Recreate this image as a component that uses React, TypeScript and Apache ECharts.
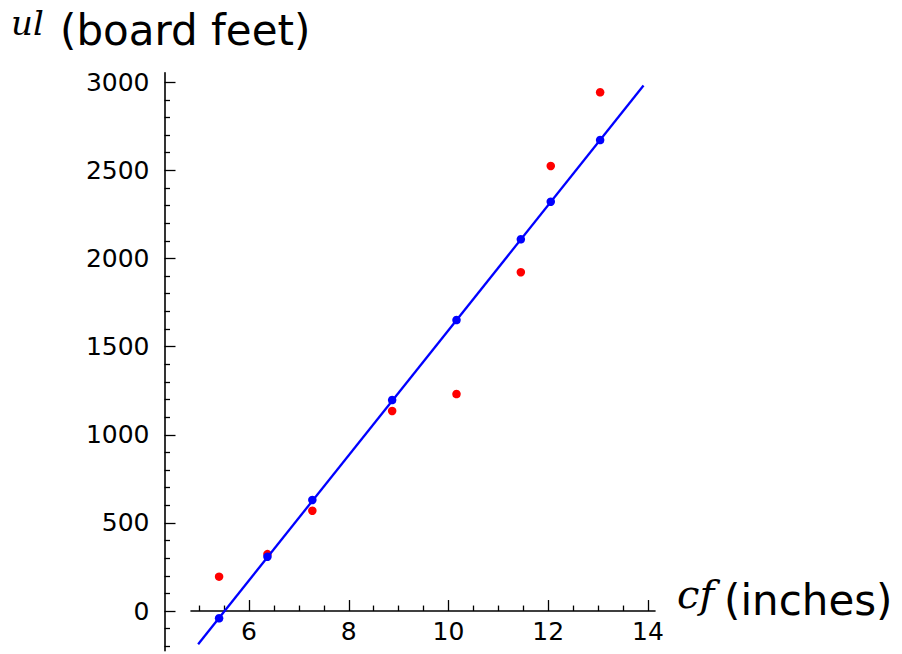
import React, { useEffect, useRef } from "react";
import * as echarts from "echarts";

// Diameter (inches) of each observation
const cfValues = [5.4, 6.37, 7.27, 8.87, 10.16, 11.45, 12.05, 13.04];
// Observed usable lumber (board feet) – red points
const ulObserved = [195, 323, 569, 1135, 1231, 1922, 2525, 2943];
// Fitted values (board feet) – blue points
const ulFitted = [-41, 308, 630, 1197, 1651, 2109, 2322, 2672];
// Fitted regression line end points
const fitLineX = [4.98, 13.91];
const fitLineY = [-188, 2981];

const xMajorTicks = [6, 8, 10, 12, 14];
const xMinorTicks = [5, 5.5, 6.5, 7, 7.5, 8.5, 9, 9.5, 10.5, 11, 11.5, 12.5, 13, 13.5];
const yMajorTicks = [0, 500, 1000, 1500, 2000, 2500, 3000];
const yMinorTicks = [
  -200, -100, 100, 200, 300, 400, 600, 700, 800, 900, 1100, 1200, 1300, 1400, 1600, 1700, 1800,
  1900, 2100, 2200, 2300, 2400, 2600, 2700, 2800, 2900,
];

const X_MIN = 4.837;
const X_MAX = 14.14;
const Y_MIN = -225;
const Y_MAX = 3054;

export default function App() {
  const ref = useRef<HTMLDivElement>(null);
  useEffect(() => {
    if (!ref.current) return;
    const chart = echarts.init(ref.current, undefined, { renderer: "svg" });
    const axisColor = "#000";
    const gridTop = 72.7;
    const gridBottom = 3.3;
    const plotH = 654 - gridTop - gridBottom;
    // shift x axis up from grid bottom to the y = 0 level
    const xOffset = -(plotH * (0 - Y_MIN)) / (Y_MAX - Y_MIN);
    const tickFont = {
      fontSize: 25,
      fontFamily: "DejaVu Sans",
      color: "#000",
      formatter: (v: number) => String(v),
    };
    const yAxisBase = {
      type: "value" as const,
      min: Y_MIN,
      max: Y_MAX,
      position: "left" as const,
      offset: 26.5,
      splitLine: { show: false },
    };
    const xAxisBase = {
      type: "value" as const,
      min: X_MIN,
      max: X_MAX,
      position: "bottom" as const,
      offset: xOffset,
      splitLine: { show: false },
    };
    chart.setOption({
      animation: false,
      backgroundColor: "#fff",
      grid: {
        left: 191,
        right: 247,
        top: gridTop,
        bottom: gridBottom,
        containLabel: false,
        outerBoundsMode: "none",
      },
      xAxis: [
        {
          ...xAxisBase,
          axisLine: { show: true, onZero: false, lineStyle: { color: axisColor, width: 1.6 } },
          axisTick: { show: true, inside: true, length: 11, customValues: xMajorTicks, lineStyle: { color: axisColor, width: 1.3 } },
          axisLabel: { show: true, customValues: xMajorTicks, margin: 8, ...tickFont },
        },
        {
          ...xAxisBase,
          axisLine: { show: false, onZero: false },
          axisTick: { show: true, inside: true, length: 5.5, customValues: xMinorTicks, lineStyle: { color: axisColor, width: 1.3 } },
          axisLabel: { show: false },
        },
      ],
      yAxis: [
        {
          ...yAxisBase,
          axisLine: { show: true, onZero: false, lineStyle: { color: axisColor, width: 1.6 } },
          axisTick: { show: true, inside: true, length: 11, customValues: yMajorTicks, lineStyle: { color: axisColor, width: 1.3 } },
          axisLabel: { show: true, customValues: yMajorTicks, margin: 15, ...tickFont },
        },
        {
          ...yAxisBase,
          axisLine: { show: false, onZero: false },
          axisTick: { show: true, inside: true, length: 5.5, customValues: yMinorTicks, lineStyle: { color: axisColor, width: 1.3 } },
          axisLabel: { show: false },
        },
      ],
      series: [
        {
          type: "scatter",
          name: "observed",
          data: cfValues.map((x, i) => [x, ulObserved[i]]),
          symbolSize: 8.5,
          itemStyle: { color: "#ff0000", opacity: 1 },
          z: 2,
        },
        {
          type: "line",
          name: "fit",
          data: fitLineX.map((x, i) => [x, fitLineY[i]]),
          showSymbol: false,
          symbol: "none",
          lineStyle: { color: "#0000ff", width: 2.3 },
          z: 3,
        },
        {
          type: "scatter",
          name: "fitted",
          data: cfValues.map((x, i) => [x, ulFitted[i]]),
          symbolSize: 8.5,
          itemStyle: { color: "#0000ff", opacity: 1 },
          z: 4,
        },
      ],
      graphic: [
        {
          type: "text",
          x: 11,
          y: 23,
          style: { text: "ul", font: "italic 34px 'DejaVu Serif'", fill: "#000", verticalAlign: "middle" },
        },
        {
          type: "text",
          x: 60,
          y: 30,
          style: { text: "(board feet)", font: "42px 'DejaVu Sans'", fill: "#000", verticalAlign: "middle" },
        },
        {
          type: "text",
          x: 677,
          y: 594,
          style: { text: "cf", font: "italic 40px 'DejaVu Serif'", fill: "#000", verticalAlign: "middle" },
        },
        {
          type: "text",
          x: 724,
          y: 600,
          style: { text: "(inches)", font: "42px 'DejaVu Sans'", fill: "#000", verticalAlign: "middle" },
        },
      ],
    });
    return () => chart.dispose();
  }, []);
  return <div ref={ref} style={{ position: "fixed", left: 0, top: 0, width: 902, height: 654 }} />;
}
